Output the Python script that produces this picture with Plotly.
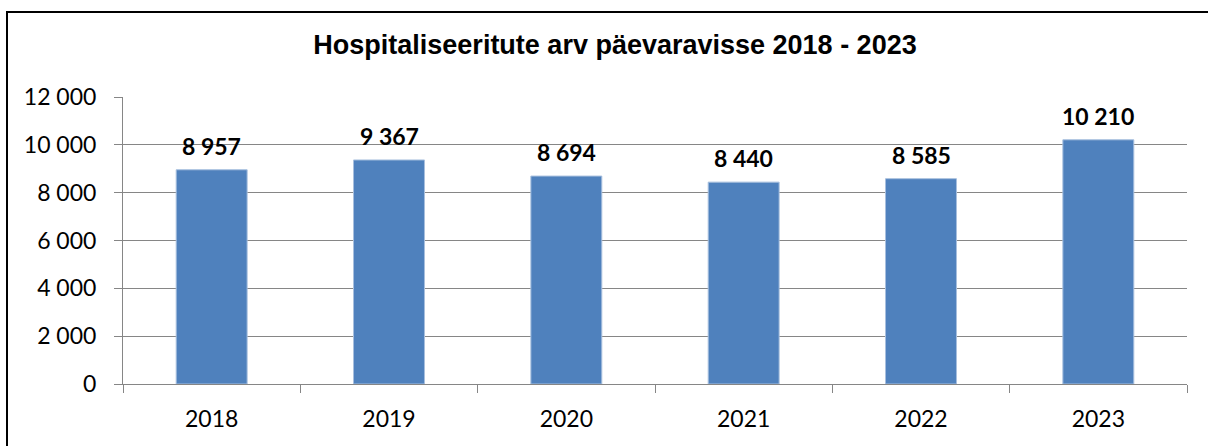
import plotly.graph_objects as go

years = ["2018", "2019", "2020", "2021", "2022", "2023"]
values = [8957, 9367, 8694, 8440, 8585, 10210]
labels = ["8 957", "9 367", "8 694", "8 440", "8 585", "10 210"]
ytick_vals = [0, 2000, 4000, 6000, 8000, 10000, 12000]
ytick_text = ["0", "2 000", "4 000", "6 000", "8 000", "10 000", "12 000"]
title = "Hospitaliseeritute arv päevaravisse 2018 - 2023"

fig = go.Figure(go.Bar(
    x=years, y=values,
    marker=dict(color="#4F81BD", line=dict(color="#A7BFDE", width=1)),
    hoverinfo="x+y",
))

W, H = 1208, 446
ml, mr, mt, mb = 123, 21, 97, 62
pw = W - ml - mr
ph = H - mt - mb

annotations = [
    dict(x=i, y=v, xref="x", yref="y", text=f"<b>{t}</b>", showarrow=False,
         yanchor="bottom", xanchor="center", yshift=8,
         font=dict(family="Lato, Carlito, sans-serif", size=23, color="black"))
    for i, (v, t) in enumerate(zip(values, labels))
]

fig.update_layout(
    width=W, height=H,
    margin=dict(l=ml, r=mr, t=mt, b=mb),
    paper_bgcolor="white", plot_bgcolor="white",
    bargap=0.6,
    showlegend=False,
    annotations=annotations,
    title=dict(text=f"<b>{title}</b>", x=615 / W, xanchor="center", y=1 - 45 / H, yanchor="middle",
               font=dict(family="Liberation Sans, Arial", size=27, color="black")),
    xaxis=dict(type="category", range=[-0.5, len(years) - 0.5],
               showline=True, linecolor="#868686", linewidth=1, ticks="outside", ticklen=8,
               tickcolor="#868686", tickson="boundaries", showgrid=False, ticklabelstandoff=14,
               automargin=False, tickangle=0,
               tickfont=dict(family="Lato, Carlito, sans-serif", size=23, color="black")),
    yaxis=dict(range=[0, 12000], tickvals=ytick_vals, ticktext=ytick_text,
               showline=True, linecolor="#868686", linewidth=1, ticks="outside", ticklen=8,
               tickcolor="#868686", showgrid=True, gridcolor="#868686", gridwidth=1,
               zeroline=False, ticklabelstandoff=13, automargin=False,
               tickfont=dict(family="Lato, Carlito, sans-serif", size=23, color="black")),
    shapes=[dict(type="rect", xref="paper", yref="paper",
                 x0=-(ml - 7) / pw, x1=1 + (mr + 5) / pw,
                 y0=-(mb + 5) / ph, y1=1 + (mt - 12) / ph,
                 line=dict(color="black", width=2), fillcolor="rgba(0,0,0,0)", layer="below")],
)

fig.write_html("out.html", post_script="document.body.style.margin='0';",
               config={"displayModeBar": False})
